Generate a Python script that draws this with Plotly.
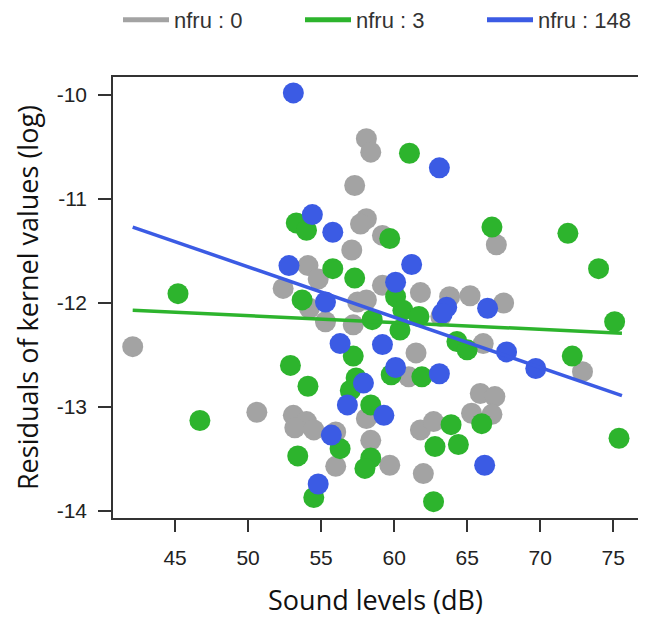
import plotly.graph_objects as go

# ---- data ----
gray_x = [42.1, 50.6, 53.1, 54.0, 53.2, 54.5, 56.0, 58.1, 58.4, 57.3, 58.1, 57.7, 57.1, 59.2,
          67.0, 59.2, 61.8, 63.8, 65.2, 67.5, 54.1, 52.4, 54.8, 54.2, 55.3, 57.2, 57.5, 58.1,
          61.5, 66.1, 72.9, 61.0, 63.2, 58.1, 65.9, 66.9, 65.3, 66.7, 61.8, 62.7, 58.4, 59.7,
          62.0, 56.0]
gray_y = [-12.42, -13.05, -13.08, -13.14, -13.20, -13.22, -13.57, -10.42, -10.55, -10.87, -11.19,
          -11.24, -11.49, -11.35, -11.44, -11.83, -11.90, -11.94, -11.93, -12.00, -11.64, -11.86,
          -11.77, -12.05, -12.18, -12.21, -11.99, -11.97, -12.48, -12.39, -12.66, -12.71, -12.13,
          -13.11, -12.87, -12.90, -13.06, -13.07, -13.22, -13.14, -13.32, -13.56, -13.64, -13.24]

green_x = [45.2, 46.7, 53.3, 54.0, 61.05, 59.7, 66.7, 71.9, 74.0, 57.3, 55.8, 53.7, 60.1, 60.6,
           61.7, 58.5, 60.4, 75.1, 64.3, 65.0, 72.2, 52.9, 54.1, 57.2, 59.8, 61.9, 57.4, 57.0,
           58.4, 56.3, 53.4, 54.5, 58.4, 58.0, 66.0, 63.9, 62.8, 64.4, 62.7, 75.4]
green_y = [-11.91, -13.13, -11.23, -11.30, -10.56, -11.38, -11.27, -11.33, -11.67, -11.76, -11.67,
           -11.97, -11.94, -12.07, -12.13, -12.16, -12.26, -12.18, -12.37, -12.45, -12.51, -12.60,
           -12.80, -12.51, -12.69, -12.71, -12.72, -12.84, -12.98, -13.40, -13.47, -13.87, -13.49,
           -13.59, -13.16, -13.17, -13.38, -13.36, -13.91, -13.30]

blue_x = [53.1, 54.4, 55.8, 63.1, 61.2, 60.1, 52.8, 55.3, 56.3, 59.2, 63.6, 63.3, 66.4, 67.7,
          69.7, 60.1, 63.1, 57.9, 56.8, 59.3, 55.7, 54.8, 66.2]
blue_y = [-9.98, -11.15, -11.32, -10.70, -11.63, -11.80, -11.64, -11.99, -12.39, -12.40, -12.04,
          -12.10, -12.05, -12.47, -12.63, -12.62, -12.68, -12.77, -12.98, -13.08, -13.27, -13.74,
          -13.56]

# fitted lines (end points)
fit_x = [42.1, 75.6]
green_fit_y = [-12.07, -12.29]
blue_fit_y = [-11.27, -12.89]

legend_names = ["nfru : 0", "nfru : 3", "nfru : 148"]
x_ticks = [45, 50, 55, 60, 65, 70, 75]
y_ticks = [-10, -11, -12, -13, -14]
y_tick_text = ["-10", "-11", "-12", "-13", "-14"]

GRAY = "#a3a3a3"
GREEN = "#2db42d"
BLUE = "#3b5be4"

# the page body has an 8px default margin; size the figure to fill the 646x625 window
W, H = 638, 617

fig = go.Figure()
mk = dict(size=21, line=dict(width=0))
fig.add_trace(go.Scatter(x=gray_x, y=gray_y, mode="markers", marker=dict(color=GRAY, **mk),
                         showlegend=False))
fig.add_trace(go.Scatter(x=green_x, y=green_y, mode="markers", marker=dict(color=GREEN, **mk),
                         showlegend=False))
fig.add_trace(go.Scatter(x=blue_x, y=blue_y, mode="markers", marker=dict(color=BLUE, **mk),
                         showlegend=False))
fig.add_trace(go.Scatter(x=fit_x, y=green_fit_y, mode="lines", line=dict(color=GREEN, width=3.5),
                         showlegend=False))
fig.add_trace(go.Scatter(x=fit_x, y=blue_fit_y, mode="lines", line=dict(color=BLUE, width=3.5),
                         showlegend=False))
# legend entries, one legend box per entry
legend_ids = ["legend", "legend2", "legend3"]
for name, col, lg in zip(legend_names, [GRAY, GREEN, BLUE], legend_ids):
    fig.add_trace(go.Scatter(x=[None], y=[None], mode="lines", name=name, legend=lg,
                             line=dict(color=col, width=5)))

tickfont = dict(family="Liberation Sans, Arial", size=21, color="#222222")
titlefont = dict(family="Open Sans, Noto Sans, sans-serif", size=27, color="#111111")
legfont = dict(family="Liberation Sans, Arial", size=22, color="#333333")

legend_lefts = [110, 292, 474]
legends = {}
for lg, left in zip(legend_ids, legend_lefts):
    legends[lg] = dict(orientation="h", xref="container", yref="container", x=left / W,
                       y=1 - 12 / H, xanchor="left", yanchor="middle", itemwidth=46,
                       font=legfont, bgcolor="rgba(0,0,0,0)")

fig.update_layout(
    width=W, height=H,
    margin=dict(l=105, r=8, t=69, b=107, autoexpand=False),
    paper_bgcolor="white", plot_bgcolor="white",
    **legends,
    xaxis=dict(range=[40.75, 76.7], tickvals=x_ticks, ticks="outside", ticklen=12, tickwidth=1.5,
               tickcolor="#333", showline=True, mirror=True, linecolor="#333", linewidth=1.5,
               showgrid=False, zeroline=False, tickfont=tickfont, ticklabelstandoff=8,
               automargin=False,
               title=dict(text="Sound levels (dB)", font=titlefont, standoff=23)),
    yaxis=dict(range=[-14.067, -9.827], tickvals=y_ticks, ticktext=y_tick_text, ticks="outside",
               ticklen=13, tickwidth=1.5, tickcolor="#333", showline=True, mirror=True,
               linecolor="#333", linewidth=1.5, showgrid=False, zeroline=False, tickfont=tickfont,
               ticklabelstandoff=7, automargin=False,
               title=dict(text="Residuals of kernel values (log)", font=titlefont, standoff=10)),
)

fig.write_html("out.html")
